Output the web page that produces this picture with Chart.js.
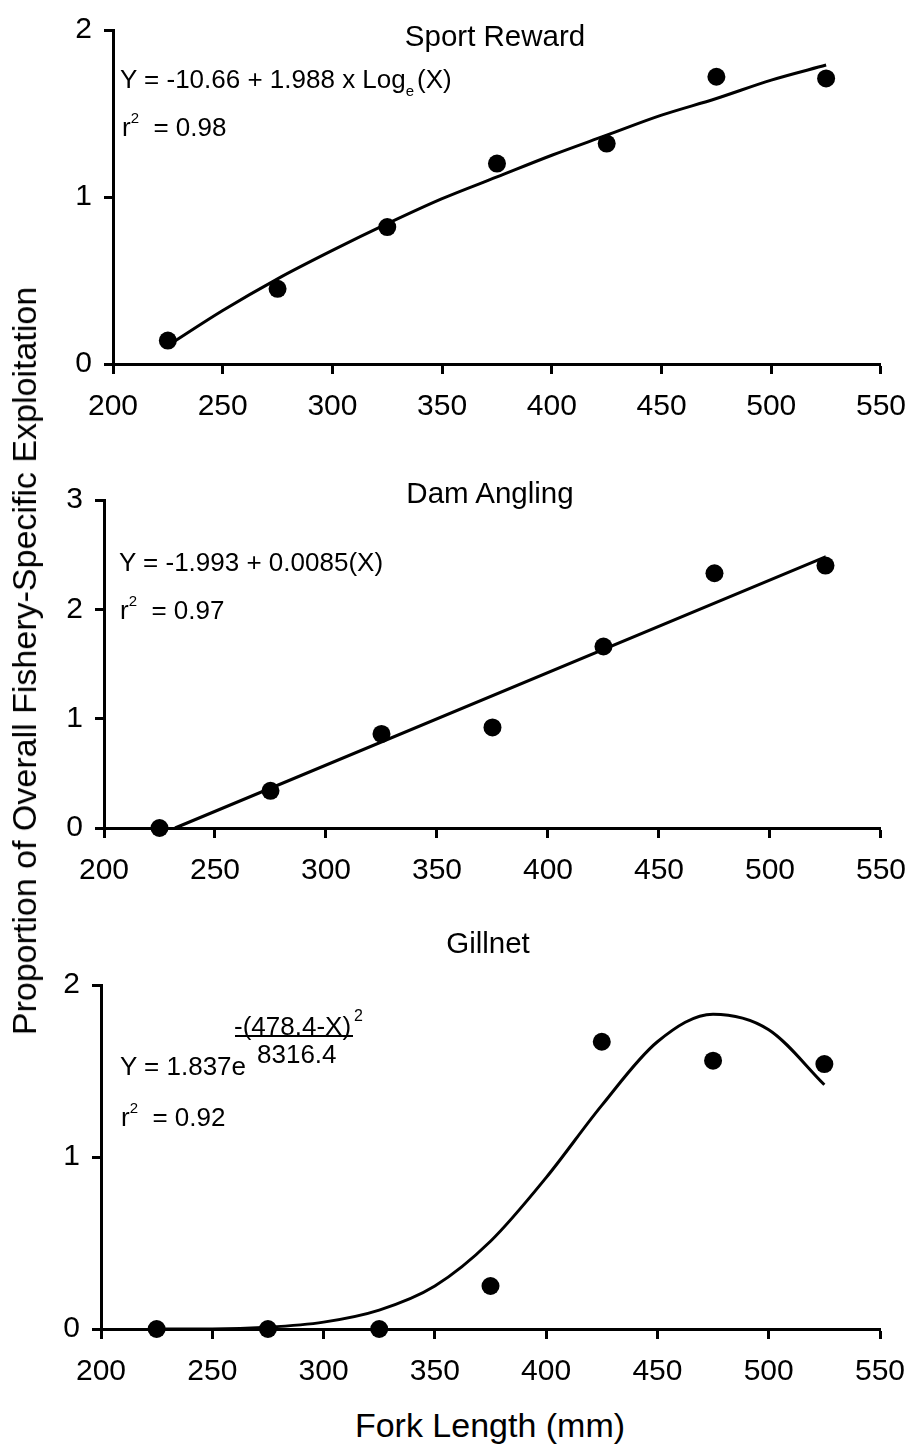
<!DOCTYPE html>
<html>
<head>
<meta charset="utf-8">
<script src="https://cdn.jsdelivr.net/npm/chart.js@4.4.1/dist/chart.umd.min.js"></script>
<style>
  body { margin: 0; background: #fff; }
  #page { position: relative; width: 921px; height: 1448px; overflow: hidden;
          font-family: "Liberation Sans", Arial, sans-serif; color: #000; }
  #page canvas { position: absolute; left: 0; }
  .txt { position: absolute; white-space: nowrap; line-height: 1; transform: translateY(-50%); }
  .ctr { transform: translate(-50%, -50%); }
  .title { font-size: 29.5px; }
  .eq { font-size: 26px; }
  .sup { position: relative; font-size: 15px; top: -13px; }
  .sub { position: relative; font-size: 15px; top: 8px; margin-right: 3px; }
  .axis-title { font-size: 34px; }
</style>
</head>
<body>
<div id="page">
  <canvas id="sport" width="921" height="420" style="top:0px"></canvas>
  <canvas id="dam" width="921" height="420" style="top:470px"></canvas>
  <canvas id="gill" width="921" height="440" style="top:940px"></canvas>

  <div class="txt ctr title" style="left:495px; top:36px">Sport Reward</div>
  <div class="txt eq" style="left:120px; top:79px">Y = -10.66 + 1.988 x Log<span class="sub">e</span>(X)</div>
  <div class="txt eq" style="left:122px; top:127px">r<span class="sup">2</span>&nbsp; = 0.98</div>

  <div class="txt ctr title" style="left:490px; top:493px">Dam Angling</div>
  <div class="txt eq" style="left:119px; top:562px">Y = -1.993 + 0.0085(X)</div>
  <div class="txt eq" style="left:120px; top:610px">r<span class="sup">2</span>&nbsp; = 0.97</div>

  <div class="txt ctr title" style="left:488px; top:943px">Gillnet</div>
  <div class="txt eq" style="left:120px; top:1066px">Y = 1.837e</div>
  <div class="txt eq" style="left:234px; top:1026px">-(478.4-X)</div>
  <div style="position:absolute; left:235px; top:1035px; width:118px; height:2px; background:#000"></div>
  <div class="txt" style="left:354px; top:1016px; font-size:16px">2</div>
  <div class="txt eq" style="left:257px; top:1054px">8316.4</div>
  <div class="txt eq" style="left:121px; top:1117px">r<span class="sup">2</span>&nbsp; = 0.92</div>

  <div class="txt ctr axis-title" style="left:490px; top:1425px">Fork Length (mm)</div>
  <div class="txt ctr axis-title" style="left:24px; top:661px; transform:translate(-50%,-50%) rotate(-90deg)">Proportion of Overall Fishery-Specific Exploitation</div>
</div>

<script>
// observed points
const fishLengths = [225, 275, 325, 375, 425, 475, 525];
const sportReward = [0.14, 0.45, 0.82, 1.20, 1.32, 1.72, 1.71];
const damAngling  = [0.00, 0.34, 0.86, 0.92, 1.66, 2.33, 2.40];
const gillnet     = [0.00, 0.00, 0.00, 0.25, 1.67, 1.56, 1.54];

// fitted curves
const fitLengths  = [225, 250, 275, 300, 325, 350, 375, 400, 425, 450, 475, 500, 525];
const sportFit    = [0.11, 0.32, 0.51, 0.68, 0.84, 0.99, 1.12, 1.25, 1.37, 1.49, 1.59, 1.70, 1.79];
const gillFit     = [0.00, 0.00, 0.01, 0.04, 0.11, 0.25, 0.51, 0.88, 1.30, 1.67, 1.83, 1.74, 1.42];
const damFitX     = [232, 525];
const damFit      = [0.00, 2.48];

const xTicks = [200, 250, 300, 350, 400, 450, 500, 550];
const sportYTicks = [0, 1, 2];
const damYTicks = [0, 1, 2, 3];
const gillYTicks = [0, 1, 2];

const FONT = "'Liberation Sans', Arial, sans-serif";
const Y_AXIS_W = 70;

function toXY(xs, ys) {
  return xs.map((x, i) => ({ x: x, y: ys[i] }));
}

// box: page coords of the plot area, canvas top
function makePanel(id, box, pts, fitX, fitY, yTicks) {
  const canvasH = document.getElementById(id).height;
  new Chart(document.getElementById(id), {
    type: "scatter",
    data: {
      datasets: [
        {
          data: toXY(fishLengths, pts),
          showLine: false,
          pointRadius: 9,
          pointBackgroundColor: "#000",
          pointBorderWidth: 0,
          clip: false,
          order: 0
        },
        {
          data: toXY(fitX, fitY),
          showLine: true,
          pointRadius: 0,
          borderColor: "#000",
          borderWidth: 3,
          cubicInterpolationMode: "monotone",
          clip: false,
          order: 1
        }
      ]
    },
    options: {
      responsive: false,
      animation: false,
      events: [],
      layout: {
        padding: { left: box.left - Y_AXIS_W, right: 921 - box.right, top: box.top - box.canvasTop, bottom: 0 }
      },
      plugins: { legend: { display: false }, tooltip: { enabled: false } },
      scales: {
        x: {
          type: "linear",
          min: xTicks[0],
          max: xTicks[xTicks.length - 1],
          afterBuildTicks: s => { s.ticks = xTicks.map(v => ({ value: v })); },
          afterFit: s => { s.height = box.canvasTop + canvasH - box.bottom; },
          ticks: { color: "#000", font: { family: FONT, size: 30 }, padding: 15, maxRotation: 0 },
          grid: { drawOnChartArea: false, tickLength: 10, tickColor: "#000", tickWidth: 3 },
          border: { color: "#000", width: 3 }
        },
        y: {
          min: yTicks[0],
          max: yTicks[yTicks.length - 1],
          afterBuildTicks: s => { s.ticks = yTicks.map(v => ({ value: v })); },
          afterFit: s => { s.width = Y_AXIS_W; },
          ticks: { color: "#000", font: { family: FONT, size: 30 }, padding: 12 },
          grid: { drawOnChartArea: false, tickLength: 9, tickColor: "#000", tickWidth: 3 },
          border: { color: "#000", width: 3 }
        }
      }
    }
  });
}

makePanel("sport", { canvasTop: 0, left: 113, right: 892, top: 20, bottom: 364 },
  sportReward, fitLengths, sportFit, sportYTicks);
makePanel("dam", { canvasTop: 470, left: 104, right: 882, top: 483, bottom: 828 },
  damAngling, damFitX, damFit, damYTicks);
makePanel("gill", { canvasTop: 940, left: 101, right: 880, top: 985, bottom: 1329 },
  gillnet, fitLengths, gillFit, gillYTicks);
</script>
</body>
</html>
